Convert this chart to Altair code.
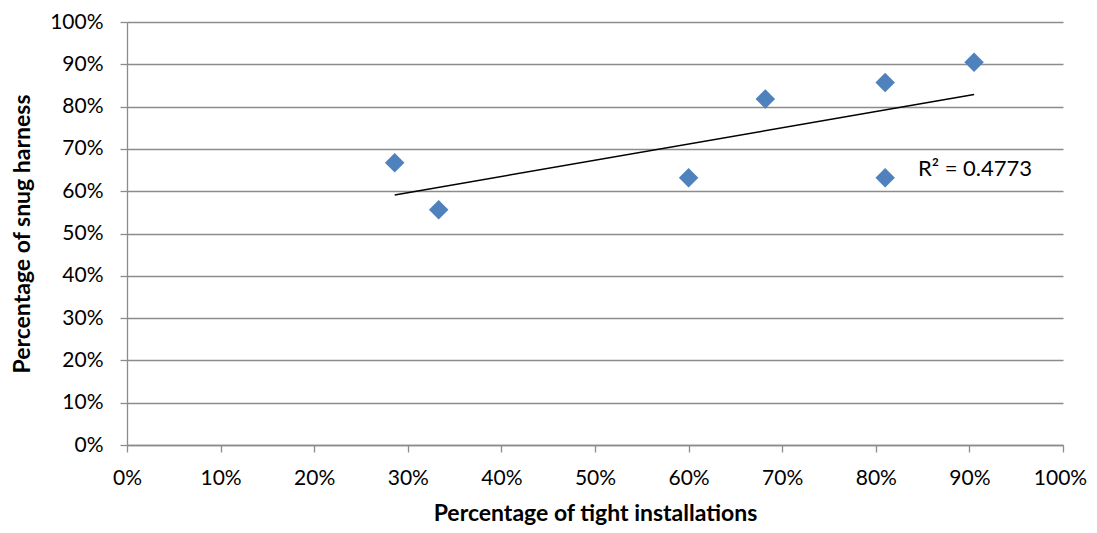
import altair as alt
import pandas as pd

tight = [28.6, 33.3, 60.0, 68.2, 81.0, 81.0, 90.5]
snug = [66.7, 55.6, 63.2, 81.8, 85.7, 63.2, 90.5]
r2_label = ["R² = 0.4773"]
r2_x = [84.5]
r2_y = [65.3]

df = pd.DataFrame({"tight": tight, "snug": snug})
lab = pd.DataFrame({"x": r2_x, "y": r2_y, "t": r2_label})

FONT = "Lato"
grid = "#8c8c8c"

xs = alt.Scale(domain=[0, 100], nice=False)
ys = alt.Scale(domain=[0, 100], nice=False)

xax = alt.Axis(values=list(range(0, 101, 10)), labelExpr="datum.value + '%'",
               title="Percentage of tight installations", grid=False,
               tickSize=7, labelPadding=15, titlePadding=14,
               labelFlush=False, labelOverlap=False,
               labelOffset={"condition": {"test": "datum.value == 100", "value": -3}, "value": 0})
yax = alt.Axis(values=list(range(0, 101, 10)), labelExpr="datum.value + '%'",
               title="Percentage of snug harness", grid=True,
               tickSize=7, labelPadding=17, titlePadding=15,
               labelFlush=False, labelOverlap=False)

base = alt.Chart(df)

pts = base.mark_point(shape="diamond", filled=True, size=380, opacity=1,
                      color="#4F81BD").encode(
    x=alt.X("tight:Q", scale=xs, axis=xax),
    y=alt.Y("snug:Q", scale=ys, axis=yax),
)

trend = base.transform_regression("tight", "snug").mark_line(
    color="black", strokeWidth=1.5).encode(
    x=alt.X("tight:Q", scale=xs),
    y=alt.Y("snug:Q", scale=ys),
)

txt = alt.Chart(lab).mark_text(align="left", baseline="middle", fontSize=22,
                               font=FONT, color="black").encode(
    x=alt.X("x:Q", scale=xs),
    y=alt.Y("y:Q", scale=ys),
    text="t:N",
)

chart = alt.layer(trend, pts, txt).properties(
    width=936, height=423,
    autosize=alt.AutoSizeParams(type="none"),
    padding={"left": 119, "top": 14, "right": 26, "bottom": 80},
).configure_view(stroke=None).configure_axis(
    labelFont=FONT, titleFont=FONT, labelFontSize=21, titleFontSize=23,
    titleFontWeight="bold", labelColor="black", titleColor="black",
    domainColor=grid, tickColor=grid, gridColor=grid, domainWidth=1.3,
    tickWidth=1.3, gridWidth=1.3,
)

chart.save("out.html", embed_options={"renderer": "svg", "actions": False})
